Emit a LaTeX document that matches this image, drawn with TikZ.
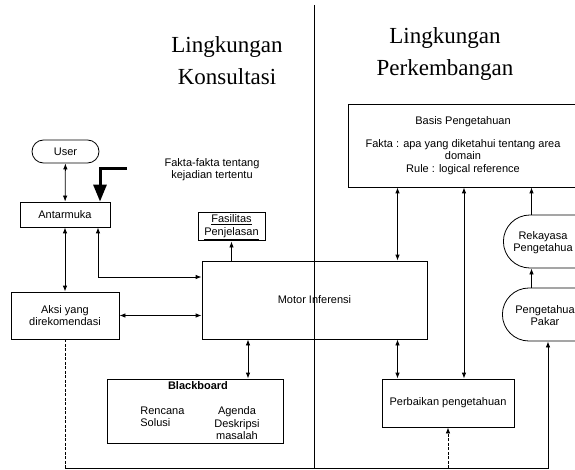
\documentclass[tikz,border=0pt]{standalone}
\usepackage{fontspec}
\setmainfont{Liberation Sans}
\newfontfamily\titlefont{Liberation Serif}
\usetikzlibrary{arrows.meta,shapes.misc}

\begin{document}
\begin{tikzpicture}[x=1pt,y=-1pt,line width=0.8pt,
  every node/.style={font=\fontsize{11}{12.5}\selectfont,inner sep=0pt},
  box/.style={draw,align=center},
  pill/.style={draw,rounded rectangle,align=center},
  halfpill/.style={draw,rounded rectangle,rounded rectangle right arc=none,
    minimum height=53pt,minimum width=120pt,anchor=west},
  title/.style={font=\titlefont\fontsize{23}{32}\selectfont,align=center},
  link/.style={-{Latex[length=6pt,width=4.5pt]}},
  both/.style={{Latex[length=6pt,width=4.5pt]}-{Latex[length=6pt,width=4.5pt]}},
  bigarrow/.style={line width=3pt,-{Triangle[length=17pt,width=13pt]}},
  dotline/.style={dash pattern=on 3pt off 1.5pt}]
\useasboundingbox (0,0) rectangle (575,470);
\node[title] (konsultasi) at (227,60.5) {Lingkungan\\Konsultasi};
\node[title] (perkembangan) at (445,54) {Lingkungan\\Perkembangan};
\node[pill,minimum width=67pt,minimum height=23pt] (user) at (65.5,151.5) {User};
\node[box,minimum width=90pt,minimum height=25pt] (antarmuka) at (65,214.5) {Antarmuka};
\node[box,minimum width=108pt,minimum height=47pt] (aksi) at (65,315.5) {Aksi yang\\direkomendasi};
\node[align=center] (fakta) at (212,169.5) {Fakta-fakta tentang\\kejadian tertentu};
\node[box,line width=1pt,minimum width=67pt,minimum height=28pt] (fasilitas) at (231.5,227) {\underline{Fasilitas}\\\underline{Penjelasan}};
\node[box,minimum width=225pt,minimum height=78pt] (motor) at (314.5,300) {Motor Inferensi};
\node[box,minimum width=176pt,minimum height=64pt] (blackboard) at (195,411) {};
\node[font=\fontsize{11}{12.5}\selectfont\bfseries] (bbtitle) at (198,386) {Blackboard};
\node[anchor=west,align=left] (rencana) at (140,417) {Rencana\\Solusi};
\node[align=center] (agenda) at (237,423.5) {Agenda\\Deskripsi\\masalah};
\node[box,minimum width=229pt,minimum height=83pt] (basis) at (463,145.5) {Basis Pengetahuan\\[10pt]Fakta : apa yang diketahui tentang area\\domain\\Rule : logical reference};
\node[halfpill] (rekayasa) at (503,241.5) {};
\node[align=center] (rekayasatext) at (543,242.5) {Rekayasa\\Pengetahua};
\node[halfpill] (pakar) at (502,314.5) {};
\node[align=center] (pakartext) at (545,315.5) {Pengetahua\\Pakar};
\node[box,minimum width=132pt,minimum height=48pt] (perbaikan) at (448,403) {Perbaikan pengetahuan};
\coordinate (divtop) at (314.5,5);
\coordinate (divbottom) at (314.5,468);
\coordinate (faktastart) at (127,169);
\coordinate (elbow) at (98,277);
\coordinate (colb) at (397.5,0);
\coordinate (colc) at (464,0);
\coordinate (cold) at (531.5,0);
\coordinate (cole) at (248,0);
\coordinate (bottomleft) at (65,468);
\coordinate (bottomright) at (548,468);
\draw (divtop) -- (divbottom);
\draw[both] (user) -- (antarmuka);
\draw[both] (antarmuka) -- (aksi);
\draw[bigarrow] (faktastart) -| ([xshift=35pt]antarmuka.north);
\draw[both] (antarmuka.south -| elbow) |- (motor.west |- elbow);
\draw[both] (aksi.east) -- (aksi.east -| motor.west);
\draw[link] (motor.north -| fasilitas) -- (fasilitas.south);
\draw[both] (motor.south -| cole) -- (blackboard.north -| cole);
\draw[both] (basis.south -| colb) -- (motor.north -| colb);
\draw[both] (motor.south -| colb) -- (perbaikan.north -| colb);
\draw[both] (basis.south -| colc) -- (perbaikan.north -| colc);
\draw[link] (rekayasa.north -| cold) -- (basis.south -| cold);
\draw[link] (pakar.north -| cold) -- (rekayasa.south -| cold);
\draw[dotline] (aksi.south) -- (bottomleft);
\draw[link] (bottomleft) -- (bottomright) -- (pakar.south -| bottomright);
\draw[dotline,link] (perbaikan.south |- bottomleft) -- (perbaikan.south);
\end{tikzpicture}
\end{document}
